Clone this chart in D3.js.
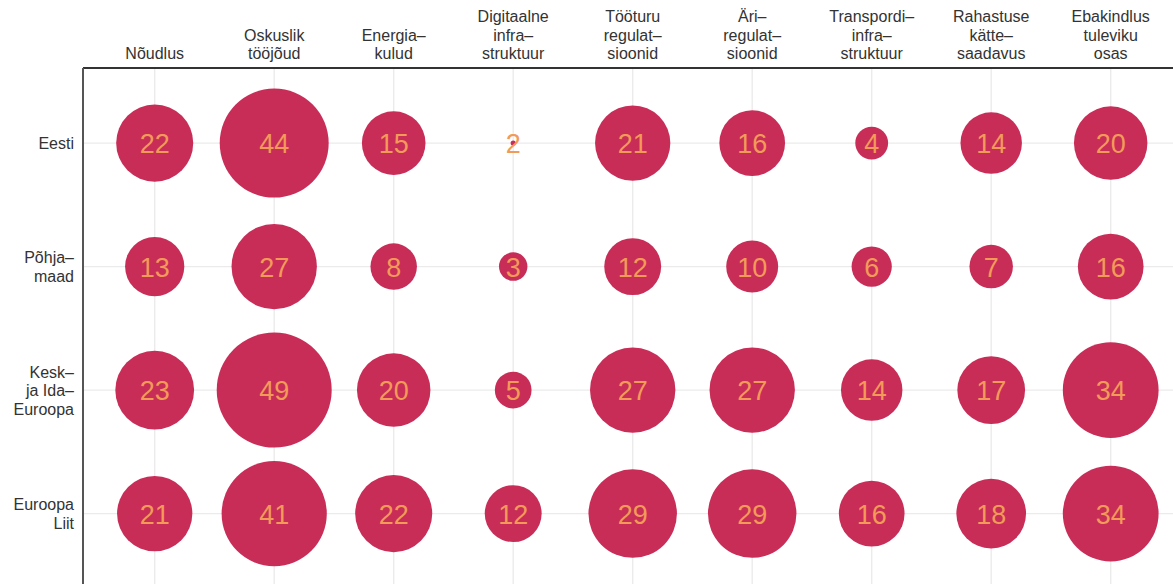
<!DOCTYPE html>
<html>
<head>
<meta charset="utf-8">
<script src="https://cdn.jsdelivr.net/npm/d3@7"></script>
<style>
  html, body { margin: 0; padding: 0; background: #ffffff; }
  svg { display: block; }
  text { font-family: "Liberation Sans", Arial, sans-serif; }
</style>
</head>
<body>
<svg id="chart" width="1173" height="584"></svg>
<script>
// ---- Data ----
const categories = [
  ["Nõudlus"],
  ["Oskuslik", "tööjõud"],
  ["Energia–", "kulud"],
  ["Digitaalne", "infra–", "struktuur"],
  ["Tööturu", "regulat–", "sioonid"],
  ["Äri–", "regulat–", "sioonid"],
  ["Transpordi–", "infra–", "struktuur"],
  ["Rahastuse", "kätte–", "saadavus"],
  ["Ebakindlus", "tuleviku", "osas"]
];
const regions = [
  ["Eesti"],
  ["Põhja–", "maad"],
  ["Kesk–", "ja Ida–", "Euroopa"],
  ["Euroopa", "Liit"]
];
const eesti        = [22, 44, 15, 2, 21, 16, 4, 14, 20];
const pohjamaad    = [13, 27, 8, 3, 12, 10, 6, 7, 16];
const keskIda      = [23, 49, 20, 5, 27, 27, 14, 17, 34];
const euroopaLiit  = [21, 41, 22, 12, 29, 29, 16, 18, 34];
// bubble size as drawn (the Eesti "2" is drawn as a tiny dot)
const eestiSize    = [22, 44, 15, 0.1, 21, 16, 4, 14, 20];

const seriesLabels = [eesti, pohjamaad, keskIda, euroopaLiit];
const seriesSizes  = [eestiSize, pohjamaad, keskIda, euroopaLiit];

// ---- Layout ----
const svg = d3.select("#chart");
const mLeft = 83, mTop = 68;
const colStep = 119.5, rowStep = 123.5;
const mRight = mLeft + colStep * (categories.length - 1 + 1.2);
const mBottom = mTop + rowStep * (regions.length - 1 + 1.2);

const colKeys = categories.map((c, i) => i);
const rowKeys = regions.map((r, i) => i);

const x = d3.scalePoint().domain(colKeys).range([mLeft, mRight]).padding(0.6);
const y = d3.scalePoint().domain(rowKeys).range([mTop + 1, mBottom + 1]).padding(0.6);
const r = d3.scaleSqrt().domain([0, 49]).range([0, 57.5]);

// grid
const grid = svg.append("g");
grid.selectAll("line.v").data(colKeys).join("line")
  .attr("x1", d => x(d)).attr("x2", d => x(d))
  .attr("y1", mTop).attr("y2", mBottom)
  .attr("stroke", "#ebebeb").attr("stroke-width", 1.4);
grid.selectAll("line.h").data(rowKeys).join("line")
  .attr("x1", mLeft).attr("x2", mRight)
  .attr("y1", d => y(d)).attr("y2", d => y(d))
  .attr("stroke", "#ebebeb").attr("stroke-width", 1.4);

// axes lines
svg.append("line").attr("x1", mLeft).attr("x2", mRight).attr("y1", mTop).attr("y2", mTop)
  .attr("stroke", "#333").attr("stroke-width", 2);
svg.append("line").attr("x1", mLeft).attr("x2", mLeft).attr("y1", mTop).attr("y2", mBottom)
  .attr("stroke", "#555").attr("stroke-width", 2);

// cells
const cells = [];
rowKeys.forEach(ri => colKeys.forEach(ci => {
  cells.push({ ri, ci, label: seriesLabels[ri][ci], size: seriesSizes[ri][ci] });
}));

svg.append("g").selectAll("circle").data(cells).join("circle")
  .attr("cx", d => x(d.ci)).attr("cy", d => y(d.ri))
  .attr("r", d => r(d.size))
  .attr("fill", "#c82d58");

svg.append("g").selectAll("text").data(cells).join("text")
  .attr("x", d => x(d.ci)).attr("y", d => y(d.ri) + 10)
  .attr("text-anchor", "middle")
  .attr("font-size", 27)
  .attr("fill", "#f29a58")
  .text(d => d.label);

// column headers (bottom aligned)
const lh = 18.5;
const colHead = svg.append("g").attr("font-size", 16).attr("fill", "#333");
categories.forEach((lines, ci) => {
  const t = colHead.append("text").attr("text-anchor", "middle");
  lines.forEach((ln, k) => {
    t.append("tspan").attr("x", x(ci))
      .attr("y", 59 - (lines.length - 1 - k) * lh)
      .text(ln);
  });
});

// row labels (right aligned, vertically centred)
const rowHead = svg.append("g").attr("font-size", 16).attr("fill", "#333");
regions.forEach((lines, ri) => {
  const t = rowHead.append("text").attr("text-anchor", "end");
  const n = lines.length;
  lines.forEach((ln, k) => {
    t.append("tspan").attr("x", 74)
      .attr("y", y(ri) + 6 + (k - (n - 1) / 2) * lh)
      .text(ln);
  });
});
</script>
</body>
</html>
